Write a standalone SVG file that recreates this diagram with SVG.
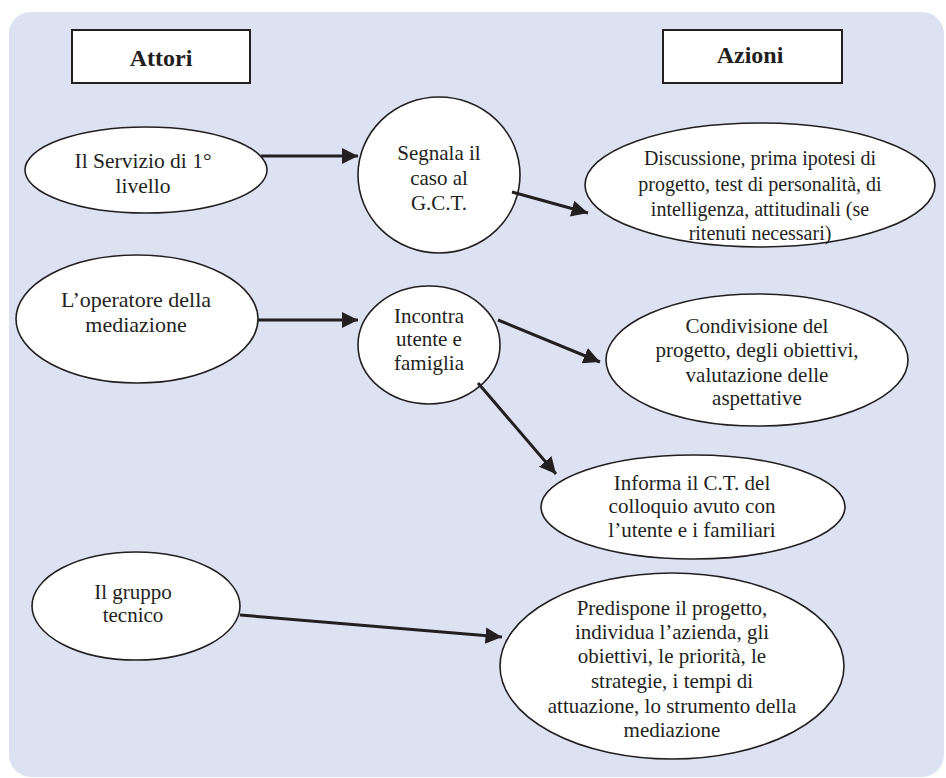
<svg xmlns="http://www.w3.org/2000/svg" width="946" height="778" viewBox="0 0 946 778">
  <defs>
    <marker id="arrow" viewBox="0 0 10 10" refX="10" refY="5" markerWidth="5.5" markerHeight="6.5" markerUnits="strokeWidth" orient="auto">
      <path d="M0,0 L10,5 L0,10 z" fill="#231f20"/>
    </marker>
  </defs>
  <style>
    .bg { fill: #dde2f3; }
    .node { fill: #ffffff; stroke: #231f20; stroke-width: 1.6; }
    .hdr { fill: #ffffff; stroke: #231f20; stroke-width: 2; }
    text { font-family: "Liberation Serif", "Times New Roman", serif; fill: #231f20; text-anchor: middle; }
    .title { font-weight: bold; font-size: 24px; }
    .conn { stroke: #231f20; stroke-width: 3; fill: none; marker-end: url(#arrow); }
  </style>

  <rect class="bg" x="9" y="12" width="935" height="765" rx="22"/>

  <!-- column headers -->
  <g id="hdr-attori">
    <rect class="hdr" x="72" y="30" width="178" height="53"/>
    <text class="title" x="161" y="66">Attori</text>
  </g>
  <g id="hdr-azioni">
    <rect class="hdr" x="663" y="30" width="179" height="53"/>
    <text class="title" x="750" y="63">Azioni</text>
  </g>

  <!-- actors -->
  <g id="servizio">
    <ellipse class="node" cx="146" cy="170" rx="121" ry="43"/>
    <text font-size="21.5" x="143" y="168">Il Servizio di 1°</text>
    <text font-size="21.5" x="143" y="193">livello</text>
  </g>
  <g id="operatore">
    <ellipse class="node" cx="137" cy="319" rx="121" ry="64"/>
    <text font-size="22" x="136" y="307">L’operatore della</text>
    <text font-size="22" x="136" y="332">mediazione</text>
  </g>
  <g id="gruppo">
    <ellipse class="node" cx="136" cy="606" rx="104" ry="54"/>
    <text font-size="21" x="133" y="599">Il gruppo</text>
    <text font-size="21" x="133" y="622">tecnico</text>
  </g>

  <!-- intermediate steps -->
  <g id="segnala">
    <ellipse class="node" cx="439" cy="175" rx="81" ry="78"/>
    <text font-size="21" x="439" y="160">Segnala il</text>
    <text font-size="21" x="439" y="185">caso al</text>
    <text font-size="21" x="439" y="210">G.C.T.</text>
  </g>
  <g id="incontra">
    <ellipse class="node" cx="429" cy="345" rx="71" ry="59"/>
    <text font-size="21" x="429" y="323">Incontra</text>
    <text font-size="21" x="429" y="346">utente e</text>
    <text font-size="21" x="429" y="370">famiglia</text>
  </g>

  <!-- actions -->
  <g id="discussione">
    <ellipse class="node" cx="760" cy="185" rx="175" ry="62"/>
    <text font-size="20" x="760" y="165">Discussione, prima ipotesi di</text>
    <text font-size="20" x="760" y="191">progetto, test di personalità, di</text>
    <text font-size="20" x="760" y="216">intelligenza, attitudinali (se</text>
    <text font-size="20" x="760" y="240">ritenuti necessari)</text>
  </g>
  <g id="condivisione">
    <ellipse class="node" cx="757" cy="360" rx="151" ry="66"/>
    <text font-size="21" x="757" y="333">Condivisione del</text>
    <text font-size="21" x="757" y="357">progetto, degli obiettivi,</text>
    <text font-size="21" x="757" y="382">valutazione delle</text>
    <text font-size="21" x="757" y="405">aspettative</text>
  </g>
  <g id="informa">
    <ellipse class="node" cx="693" cy="507" rx="152" ry="52"/>
    <text font-size="21" x="692" y="490">Informa il C.T. del</text>
    <text font-size="21" x="692" y="513">colloquio avuto con</text>
    <text font-size="21" x="692" y="537">l’utente e i familiari</text>
  </g>
  <g id="predispone">
    <ellipse class="node" cx="672" cy="666" rx="172" ry="93"/>
    <text font-size="21" x="672" y="615">Predispone il progetto,</text>
    <text font-size="21" x="672" y="639">individua l’azienda, gli</text>
    <text font-size="21" x="672" y="663">obiettivi, le priorità, le</text>
    <text font-size="21" x="672" y="688">strategie, i tempi di</text>
    <text font-size="21" x="672" y="713">attuazione, lo strumento della</text>
    <text font-size="21" x="672" y="737">mediazione</text>
  </g>

  <!-- connectors -->
  <g id="connectors">
    <line class="conn" x1="261" y1="156" x2="358" y2="156"/>
    <line class="conn" x1="512" y1="192" x2="588" y2="213"/>
    <line class="conn" x1="258" y1="320" x2="358" y2="320"/>
    <line class="conn" x1="498" y1="320" x2="600" y2="362"/>
    <line class="conn" x1="478" y1="383" x2="556" y2="474"/>
    <line class="conn" x1="240" y1="615" x2="502" y2="637"/>
  </g>
</svg>
